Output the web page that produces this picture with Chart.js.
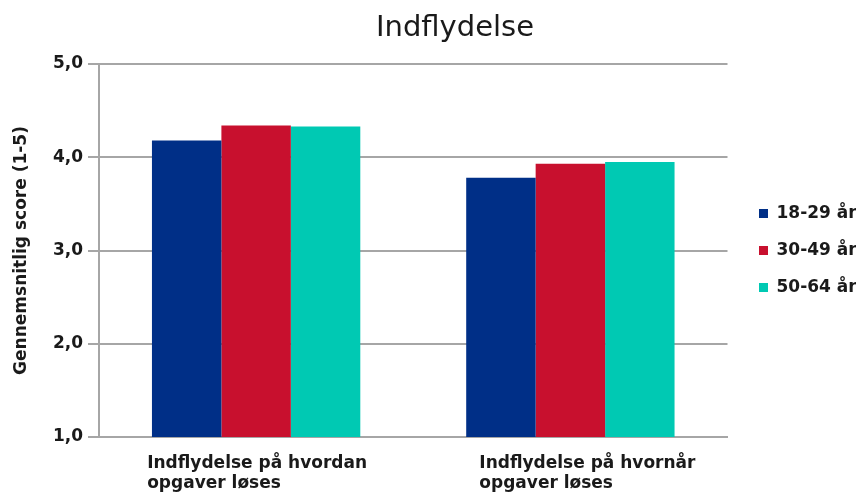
<!DOCTYPE html>
<html>
<head>
<meta charset="utf-8">
<script src="https://cdn.jsdelivr.net/npm/chart.js@4/dist/chart.umd.min.js"></script>
<style>
  html, body { margin: 0; padding: 0; background: #ffffff; overflow: hidden; }
  #wrap { width: 856px; height: 495px; position: relative; }
</style>
</head>
<body>
<div id="wrap"><canvas id="c" width="856" height="495"></canvas></div>
<script>
// Chart content
const chartTitle = 'Indflydelse';
const axisTitle = 'Gennemsnitlig score (1-5)';
const categories = [
  ['Indflydelse på hvordan', 'opgaver løses'],
  ['Indflydelse på hvornår', 'opgaver løses']
];
const seriesNames = ['18-29 år', '30-49 år', '50-64 år'];
const values18to29 = [4.18, 3.78];
const values30to49 = [4.34, 3.93];
const values50to64 = [4.33, 3.95];
const yMin = 1, yMax = 5, yStep = 1;

// Styling
const FONT = '"DejaVu Sans", Verdana, sans-serif';
const TEXT = '#1a1a1a';
const GRID = '#a6a6a6';
const COLORS = ['#002f87', '#c8102e', '#00c9b3'];
const labelShift = [1, 17];

// Draws the chart title and the left-aligned two-line category labels
const extraText = {
  id: 'extraText',
  afterDraw(chart) {
    const ctx = chart.ctx;
    ctx.save();
    ctx.fillStyle = TEXT;
    ctx.textBaseline = 'alphabetic';
    ctx.textAlign = 'center';
    ctx.font = '29px ' + FONT;
    ctx.fillText(chartTitle, 455, 36);

    const xs = chart.scales.x;
    ctx.font = 'bold 17px ' + FONT;
    ctx.textAlign = 'left';
    categories.forEach((lines, i) => {
      const cx = xs.getPixelForValue(i) + labelShift[i];
      const w = Math.max(...lines.map(l => ctx.measureText(l).width));
      lines.forEach((line, k) => {
        ctx.fillText(line, cx - w / 2, xs.bottom + 31 + k * 20);
      });
    });
    ctx.restore();
  }
};

const seriesValues = [values18to29, values30to49, values50to64];

new Chart(document.getElementById('c'), {
  type: 'bar',
  data: {
    labels: categories.map(c => c.join(' ')),
    datasets: seriesNames.map((name, i) => ({
      label: name,
      data: seriesValues[i],
      backgroundColor: COLORS[i],
      borderWidth: 0,
      categoryPercentage: 0.663,
      barPercentage: 1.0
    }))
  },
  options: {
    responsive: false,
    animation: false,
    devicePixelRatio: 1,
    layout: { padding: { top: 64, left: 8, right: 0, bottom: 58 } },
    plugins: {
      title: { display: false },
      tooltip: { enabled: false },
      legend: {
        position: 'right',
        maxWidth: 117,
        labels: {
          boxWidth: 9,
          boxHeight: 9,
          padding: 20,
          color: TEXT,
          font: { family: FONT, size: 17, weight: 'bold' }
        }
      }
    },
    scales: {
      x: {
        grid: { display: false },
        border: { display: true, color: GRID, width: 2 },
        ticks: { display: false },
        afterFit: s => { s.height = 0; }
      },
      y: {
        min: yMin,
        max: yMax,
        ticks: {
          stepSize: yStep,
          padding: 5,
          color: TEXT,
          font: { family: FONT, size: 17, weight: 'bold' },
          callback: v => v.toFixed(1).replace('.', ',')
        },
        grid: { color: GRID, lineWidth: 2, drawTicks: true, tickLength: 11 },
        border: { display: true, color: GRID, width: 2 },
        title: {
          display: true,
          text: axisTitle,
          color: TEXT,
          font: { family: FONT, size: 17, weight: 'bold' },
          padding: { top: 3, bottom: 0 }
        },
        afterFit: s => { s.width = 91; }
      },
      gap: {
        position: 'right',
        display: true,
        grid: { display: false },
        border: { display: false },
        ticks: { display: false },
        afterFit: s => { s.width = 11.5; }
      }
    }
  },
  plugins: [extraText]
});
</script>
</body>
</html>
